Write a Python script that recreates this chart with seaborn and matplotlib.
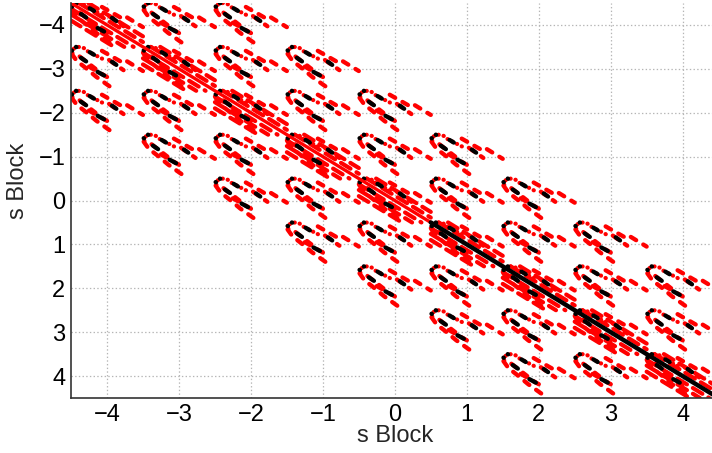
import numpy as np
import pandas as pd
import matplotlib
matplotlib.use("Agg")
from matplotlib import pyplot as plt
import seaborn as sns

# ---- data ----
n_blocks = 9
band = 2                       # blocks drawn where |col - row| <= band
block_edges = np.arange(-4.5, 4.5, 1.0)   # top-left corner of every block
tick_values = np.arange(-4, 5)
first_black_block = 5          # diagonal line turns black from this block on
axis_label = "s Block"

# glyph drawn inside each block, in fractions of a block (u right, v down)
arc_center, arc_radius = (0.115, 0.11), (0.10, 0.11)
arc_tail = (0.47, 0.30)
red_strokes = [
    [(0.01, 0.16), (0.08, 0.32), (0.19, 0.46), (0.35, 0.68), (0.58, 0.95)],
    [(0.12, 0.22), (0.34, 0.50)],
    [(0.25, 0.45), (0.58, 0.76)],
    [(0.43, 0.09), (0.73, 0.37)],
    [(0.53, 0.30), (0.73, 0.53)],
    [(0.78, 0.33), (1.00, 0.55)],
]
black_strokes = [
    [(0.01, 0.08), (0.015, 0.085)],
    [(0.07, 0.0), (0.075, 0.005)],
    [(0.14, 0.25), (0.21, 0.33)],
    [(0.37, 0.57), (0.46, 0.65)],
    [(0.26, 0.12), (0.32, 0.18)],
    [(0.57, 0.34), (0.63, 0.41)],
]
diag_offsets = [-0.24, -0.11, 0.13, 0.26, 0.4]


def glyph_rows(col, row, dense):
    x0, y0 = block_edges[col], block_edges[row]
    rows = []
    t = np.linspace(np.radians(200), np.radians(15), 9)
    arc = [(arc_center[0] + arc_radius[0] * np.cos(a),
            arc_center[1] - arc_radius[1] * np.sin(a)) for a in t] + [arc_tail]
    strokes = [("arc", arc)] + [("red", s) for s in red_strokes]
    if dense:
        for c in diag_offsets:
            u0, u1 = max(0.0, -c), min(1.0, 1.0 - c)
            strokes.append(("dense", [(u0, u0 + c), (u1, u1 + c)]))
    strokes += [("black", s) for s in black_strokes]
    for i, (kind, pts) in enumerate(strokes):
        for u, v in pts:
            rows.append(dict(x=x0 + u, y=y0 + v, kind=kind,
                             stroke=f"{col}-{row}-{i}"))
    return rows


records = []
for col in range(n_blocks):
    for row in range(n_blocks):
        if abs(col - row) <= band:
            records += glyph_rows(col, row, col == row)
glyphs = pd.DataFrame(records)

diag_x = np.r_[block_edges, 4.5]
diag = pd.DataFrame({
    "x": np.r_[diag_x[:first_black_block + 1], diag_x[first_black_block:]],
    "y": np.r_[diag_x[:first_black_block + 1], diag_x[first_black_block:]],
    "part": ["red"] * (first_black_block + 1)
            + ["black"] * (len(diag_x) - first_black_block),
})

# ---- drawing ----
sns.set_style("white")
plt.rcParams["font.family"] = ["Liberation Sans", "DejaVu Sans"]
plt.rcParams["lines.scale_dashes"] = False

fig = plt.figure(figsize=(7.12, 4.53), dpi=100)
ax = fig.add_axes([71 / 712, 55 / 453, 647.6 / 712, 395 / 453])

styles = {
    "arc": dict(color="red", lw=3.0, linestyle=(0, (0.2, 3.6))),
    "red": dict(color="red", lw=3.1, linestyle=(0, (4.5, 6.0))),
    "dense": dict(color="red", lw=3.0, linestyle=(0, (8.0, 5.0))),
    "black": dict(color="black", lw=3.1, linestyle="-"),
}
for kind, kw in styles.items():
    sub = glyphs[glyphs["kind"] == kind]
    sns.lineplot(data=sub, x="x", y="y", units="stroke", estimator=None,
                 sort=False, ax=ax, legend=False, dash_capstyle="round",
                 solid_capstyle="round", **kw)

sns.lineplot(data=diag[diag["part"] == "red"], x="x", y="y", sort=False,
             estimator=None, color="red", lw=2.4, ax=ax)
sns.lineplot(data=diag[diag["part"] == "black"], x="x", y="y", sort=False,
             estimator=None, color="black", lw=3.2, ax=ax)

ax.set_xlim(-4.5, 4.5)
ax.set_ylim(4.5, -4.5)
ax.set_xticks(tick_values)
ax.set_yticks(tick_values)
ax.grid(True, linestyle=":", color="#b5b5b5", lw=0.9)
ax.set_axisbelow(True)
for side in ["top", "right"]:
    ax.spines[side].set_visible(False)
for side in ["left", "bottom"]:
    ax.spines[side].set_color("#333333")
    ax.spines[side].set_linewidth(1.2)
ax.tick_params(direction="in", length=5, width=0.9, labelsize=17, pad=4,
               colors="black")
ax.set_xlabel(axis_label, fontsize=17)
ax.set_ylabel(axis_label, fontsize=17)
ax.xaxis.set_label_coords(0.5, -0.068)
ax.yaxis.set_label_coords(-0.065, 0.55)

fig.savefig("out.png", dpi=100)
